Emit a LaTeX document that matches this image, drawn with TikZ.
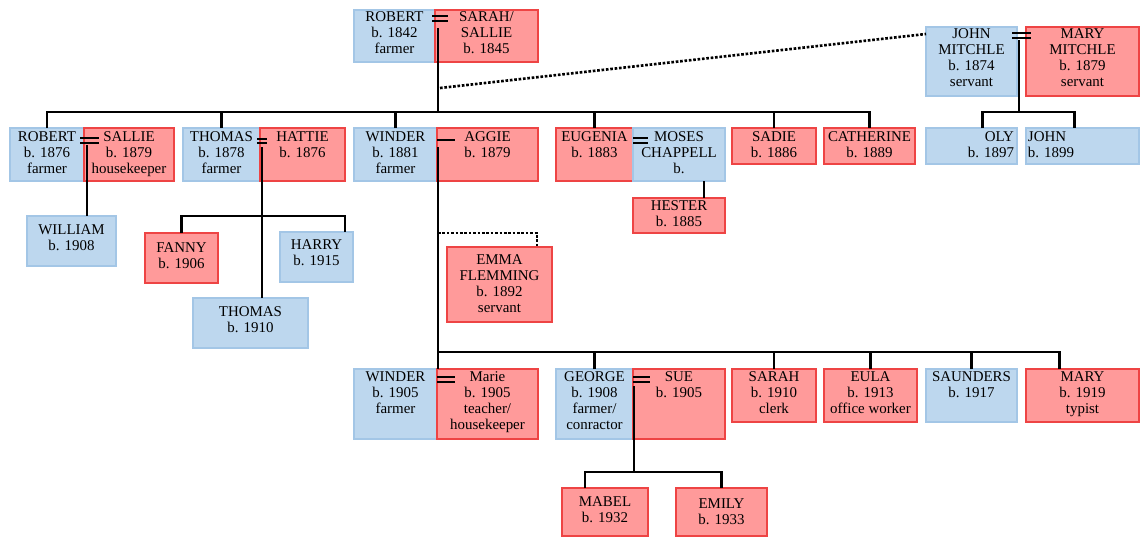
\documentclass[tikz,border=0pt]{standalone}
\usepackage{fontspec}
\setmainfont{Liberation Serif}
\usetikzlibrary{positioning,calc}
\definecolor{boyfill}{HTML}{BDD7EE}
\definecolor{boyline}{HTML}{A3C6E6}
\definecolor{girlfill}{HTML}{FF9A9A}
\definecolor{girlline}{HTML}{EE4444}

\begin{document}
\begin{tikzpicture}[x=0.02cm, y=-0.02cm, font=\fontsize{8.5}{9.1}\selectfont,
      box/.style={inner sep=0pt, outer sep=0pt, line width=0.8pt, anchor=north west},
      male/.style={box, draw=boyline, fill=boyfill},
      female/.style={box, draw=girlline, fill=girlfill},
      sz/.style 2 args={minimum width=#1*0.02cm, minimum height=#2*0.02cm},
      txt/.style={inner sep=0pt, outer sep=0pt, align=center},
      ln/.style={line width=1.2pt},
      eq/.style={line width=1.4pt},
      dotl/.style={line width=1.5pt, densely dotted}]
    \useasboundingbox (0,0) rectangle (1141,538);

    \node[male, sz={81}{52}] (rob42) at (354,10) {};
    \node[female, sz={103}{52}, right=0pt of rob42] (sar45) {};
    \node[male, sz={91}{69}] (joh74) at (926,27) {};
    \node[female, sz={113}{69}, right=0.18cm of joh74] (mar79) {};

    \node[male, sz={74}{53}] (rob76) at (10,128) {};
    \node[female, sz={90}{53}, right=0pt of rob76] (sal79) {};
    \node[male, sz={77}{53}] (tho78) at (183,128) {};
    \node[female, sz={85}{53}, right=0pt of tho78] (hat76) {};
    \node[male, sz={83}{53}] (win81) at (354,128) {};
    \node[female, sz={101}{53}, right=0pt of win81] (agg79) {};
    \node[female, sz={77}{53}] (eug83) at (556,128) {};
    \node[male, sz={92}{53}, right=0pt of eug83] (mos) {};
    \node[female, sz={84}{36}] (sad86) at (732,128) {};
    \node[female, sz={91}{36}] (cat89) at (824,128) {};
    \node[male, sz={91}{36}] (oly97) at (926,128) {};
    \node[male, sz={113}{36}] (joh99) at (1026,128) {};

    \node[male, sz={89}{50}] (wil08) at (27,216) {};
    \node[female, sz={73}{50}] (fan06) at (145,233) {};
    \node[male, sz={73}{50}] (har15) at (280,232) {};
    \node[male, sz={115}{50}] (tho10) at (193,298) {};
    \node[female, sz={92}{35}, below=0.34cm of mos] (hes85) {};
    \node[female, sz={105}{75}] (emm92) at (447,247) {};

    \node[male, sz={83}{70}] (win05) at (354,369) {};
    \node[female, sz={101}{70}, right=0pt of win05] (mar05) {};
    \node[male, sz={77}{70}] (geo08) at (556,369) {};
    \node[female, sz={92}{70}, right=0pt of geo08] (sue05) {};
    \node[female, sz={84}{53}] (sar10) at (732,369) {};
    \node[female, sz={93}{53}] (eul13) at (824,369) {};
    \node[male, sz={91}{53}] (sau17) at (926,369) {};
    \node[female, sz={113}{53}] (mar19) at (1026,369) {};

    \node[female, sz={86}{48}] (mab32) at (562,488) {};
    \node[female, sz={91}{48}] (emi33) at (676,488) {};

    \node[txt, below=1.1pt of rob42.north] (rob42t) {ROBERT\\b. 1842\\farmer};
    \node[txt, below=1.1pt of sar45.north] (sar45t) {SARAH/\\SALLIE\\b. 1845};
    \node[txt, below=1.1pt of joh74.north] (joh74t) {JOHN\\MITCHLE\\b. 1874\\servant};
    \node[txt, below=1.1pt of mar79.north] (mar79t) {MARY\\MITCHLE\\b. 1879\\servant};

    \node[txt, below=2.3pt of rob76.north] (rob76t) {ROBERT\\b. 1876\\farmer};
    \node[txt, below=2.3pt of sal79.north] (sal79t) {SALLIE\\b. 1879\\housekeeper};
    \node[txt, below=2.3pt of tho78.north] (tho78t) {THOMAS\\b. 1878\\farmer};
    \node[txt, below=2.3pt of hat76.north] (hat76t) {HATTIE\\b. 1876};
    \node[txt, below=2.3pt of win81.north] (win81t) {WINDER\\b. 1881\\farmer};
    \node[txt, below=2.3pt of agg79.north] (agg79t) {AGGIE\\b. 1879};
    \node[txt, below=2.3pt of eug83.north] (eug83t) {EUGENIA\\b. 1883};
    \node[txt, below=2.3pt of mos.north] (most) {MOSES\\CHAPPELL\\b.};
    \node[txt, below=2.3pt of sad86.north] (sad86t) {SADIE\\b. 1886};
    \node[txt, below=2.3pt of cat89.north] (cat89t) {CATHERINE\\b. 1889};
    \node[txt, align=right, below left=2.3pt and 1.7pt of oly97.north east] (oly97t) {OLY\\b. 1897};
    \node[txt, align=left, below right=2.3pt and 1.1pt of joh99.north west] (joh99t) {JOHN\\b. 1899};

    \node[txt, below=5.1pt of wil08.north] (wil08t) {WILLIAM\\b. 1908};
    \node[txt, below=5.7pt of fan06.north] (fan06t) {FANNY\\b. 1906};
    \node[txt, below=4.5pt of har15.north] (har15t) {HARRY\\b. 1915};
    \node[txt, below=5.1pt of tho10.north] (tho10t) {THOMAS\\b. 1910};
    \node[txt, below=1.7pt of hes85.north] (hes85t) {HESTER\\b. 1885};
    \node[txt, below=4.5pt of emm92.north] (emm92t) {EMMA\\FLEMMING\\b. 1892\\servant};

    \node[txt, below=1.7pt of win05.north] (win05t) {WINDER\\b. 1905\\farmer};
    \node[txt, below=1.7pt of mar05.north] (mar05t) {Marie\\b. 1905\\teacher/\\housekeeper};
    \node[txt, below=1.7pt of geo08.north] (geo08t) {GEORGE\\b. 1908\\farmer/\\conractor};
    \node[txt, below=1.7pt of sue05.north] (sue05t) {SUE\\b. 1905};
    \node[txt, below=1.7pt of sar10.north] (sar10t) {SARAH\\b. 1910\\clerk};
    \node[txt, below=1.7pt of eul13.north] (eul13t) {EULA\\b. 1913\\office worker};
    \node[txt, below=1.7pt of sau17.north] (sau17t) {SAUNDERS\\b. 1917};
    \node[txt, below=1.7pt of mar19.north] (mar19t) {MARY\\b. 1919\\typist};

    \node[txt, below=5.1pt of mab32.north] (mab32t) {MABEL\\b. 1932};
    \node[txt, below=6.2pt of emi33.north] (emi33t) {EMILY\\b. 1933};

    \draw[eq] ($(rob42.north east)+(-3,6)$) -- ++(16,0) ++(-16,5) -- ++(16,0);
    \draw[eq] ($(joh74.north east)+(-5,6)$) -- ++(19,0) ++(-19,5) -- ++(19,0);
    \draw[eq] ($(rob76.north east)+(-4,10)$) -- ++(19,0) ++(-19,5) -- ++(19,0);
    \draw[eq] ($(tho78.north east)+(-3,11)$) -- ++(10,0) ++(-10,4) -- ++(10,0);
    \draw[eq] ($(win81.north east)+(0,12)$) -- ++(18,0);
    \draw[eq] ($(eug83.north east)+(0,10)$) -- ++(15,0) ++(-15,5) -- ++(15,0);
    \draw[eq] ($(win05.north east)+(0,8)$) -- ++(18,0) ++(-18,5) -- ++(18,0);
    \draw[eq] ($(geo08.north east)+(0,8)$) -- ++(17,0) ++(-17,5) -- ++(17,0);

    \coordinate (v42) at ($(rob42.north east)+(3,18)$);
    \coordinate (b2) at ($(rob76.north)+(0,-16)$);
    \draw[ln] (v42) -- (v42 |- b2);
    \draw[ln] (rob76.north) -- (b2) -| (cat89.north);
    \draw[ln] (tho78.north) -- (tho78.north |- b2);
    \draw[ln] (win81.north) -- (win81.north |- b2);
    \draw[ln] (eug83.north) -- (eug83.north |- b2);
    \draw[ln] (sad86.north) -- (sad86.north |- b2);
    \draw[dotl] ($(rob42.north east)+(5,78)$) -- ($(joh74.north west)+(0,7)$);

    \coordinate (v74) at ($(joh74.north east)+(2,13)$);
    \coordinate (b74) at ($(oly97.north)+(11,-16)$);
    \draw[ln] (v74) -- (v74 |- b74);
    \draw[ln] ($(oly97.north)+(11,0)$) -- (b74) -| ($(joh99.north)+(-8,0)$);

    \coordinate (v76) at ($(rob76.north east)+(3,17)$);
    \draw[ln] (v76) -- (v76 |- wil08.north);

    \coordinate (v78) at ($(tho78.north east)+(2,19)$);
    \draw[ln] (v78) -- (v78 |- tho10.north);
    \draw[ln] (fan06.north) -- ++(0,-17) -| ($(har15.north east)+(-8,0)$);

    \coordinate (v81) at ($(win81.north east)+(1,19)$);
    \coordinate (b4) at ($(win05.north east)+(1,-17)$);
    \draw[ln] (v81) -- (v81 |- win05.north);
    \draw[ln] (b4) -| ($(mar19.north)+(-23,0)$);
    \draw[ln] (geo08.north) -- (geo08.north |- b4);
    \draw[ln] (sar10.north) -- (sar10.north |- b4);
    \draw[ln] (eul13.north) -- (eul13.north |- b4);
    \draw[ln] (sau17.north) -- (sau17.north |- b4);
    \draw[dotl] ($(win81.north east)+(1,105)$) -| ($(emm92.north east)+(-15,0)$);

    \draw[ln] ($(mos.south)+(25,0)$) -- ($(hes85.north)+(25,0)$);

    \coordinate (v08) at ($(geo08.north east)+(1,17)$);
    \coordinate (b5) at ($(mab32.north)+(-20,-16)$);
    \draw[ln] (v08) -- (v08 |- b5);
    \draw[ln] ($(mab32.north)+(-20,0)$) -- (b5) -| (emi33.north);
  \end{tikzpicture}
\end{document}
